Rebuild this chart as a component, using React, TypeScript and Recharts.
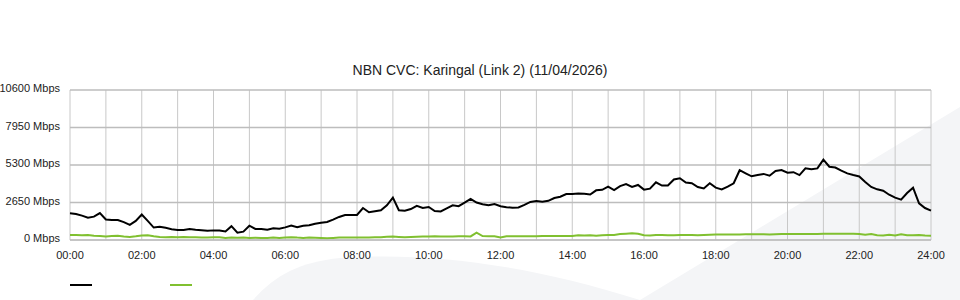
import React from 'react';
import { LineChart, Line, XAxis, YAxis, CartesianGrid, Legend } from 'recharts';

const TITLE = 'NBN CVC: Karingal (Link 2) (11/04/2026)';

// 10-minute samples, 00:00 .. 24:00 (145 points), Mbps
const downloadMbps = [
  1890, 1840, 1720, 1580, 1650, 1900, 1450, 1410, 1410, 1260, 1070, 1350,
  1800, 1350, 880, 940, 860, 760, 710, 710, 780, 730, 690, 650,
  680, 670, 600, 980, 520, 590, 1010, 780, 780, 730, 830, 800,
  890, 1020, 900, 1010, 1050, 1150, 1220, 1270, 1440, 1630, 1770, 1770,
  1770, 2260, 1960, 2030, 2100, 2450, 3000, 2100, 2070, 2190, 2420, 2260,
  2330, 2050, 2020, 2230, 2450, 2390, 2640, 2910, 2650, 2530, 2450, 2540,
  2390, 2320, 2280, 2300, 2480, 2690, 2750, 2710, 2770, 2970, 3060, 3250,
  3250, 3290, 3260, 3210, 3510, 3550, 3770, 3530, 3810, 3950, 3750, 3890,
  3560, 3630, 4080, 3850, 3850, 4280, 4360, 4060, 4010, 3740, 3640, 4010,
  3700, 3580, 3770, 4010, 4930, 4710, 4500, 4590, 4670, 4540, 4880, 4940,
  4760, 4790, 4590, 5070, 5000, 5060, 5680, 5180, 5120, 4900, 4710, 4590,
  4490, 4100, 3750, 3580, 3480, 3200, 2990, 2850, 3320, 3700, 2590, 2260,
  2080,
];

const uploadMbps = [
  360, 350, 330, 360, 300, 280, 240, 280, 300, 250, 220, 260,
  320, 340, 260, 220, 200, 210, 200, 210, 190, 200, 180, 170,
  200, 190, 150, 180, 160, 170, 150, 160, 140, 150, 170, 140,
  180, 200, 170, 150, 180, 160, 140, 120, 150, 170, 180, 180,
  180, 180, 180, 190, 190, 230, 240, 220, 190, 220, 230, 240,
  250, 260, 250, 250, 250, 260, 260, 250, 520, 280, 260, 260,
  170, 260, 270, 270, 270, 270, 270, 280, 280, 280, 280, 280,
  290, 340, 310, 330, 300, 330, 350, 360, 420, 450, 480, 440,
  340, 320, 350, 360, 330, 340, 350, 360, 360, 340, 360, 370,
  380, 390, 380, 380, 390, 400, 400, 410, 400, 390, 410, 420,
  420, 420, 430, 430, 430, 430, 440, 440, 440, 440, 440, 440,
  430, 380, 420, 340, 320, 370, 320, 400, 330, 330, 360, 310,
  300,
];

const STEP_MINUTES = 10;
const yTicks = [0, 2650, 5300, 7950, 10600];
const hourTicks = Array.from({ length: 25 }, (_, h) => h * 60);
const labelledHours = [0, 2, 4, 6, 8, 10, 12, 14, 16, 18, 20, 22, 24];

const data = downloadMbps.map((d, i) => ({
  minute: i * STEP_MINUTES,
  download: d,
  upload: uploadMbps[i],
}));

const FONT = '"Liberation Sans", Arial, Helvetica, sans-serif';

const fmtHour = (m: number) => {
  const h = Math.round(m / 60);
  if (!labelledHours.includes(h)) return '';
  return `${String(h).padStart(2, '0')}:00`;
};

const YTick = (props: any) => {
  const { x, y, payload } = props;
  return (
    <text x={x} y={y} dy={2} textAnchor="end" fill="#222" fontSize={11} fontFamily={FONT}>
      {`${payload.value} Mbps`}
    </text>
  );
};

const LegendContent = () => (
  <div style={{ position: 'relative', width: 960, height: 20 }}>
    <div style={{ position: 'absolute', left: 70, top: 14, width: 22, height: 2, background: '#000' }} />
    <div style={{ position: 'absolute', left: 170, top: 14, width: 22, height: 2, background: '#80c030' }} />
  </div>
);

export default function App() {
  return (
    <div style={{ position: 'absolute', left: 0, top: 0, width: 960, height: 300, overflow: 'hidden', background: '#fff', fontFamily: FONT }}>
      <svg width={960} height={300} style={{ position: 'absolute', left: 0, top: 0 }}>
        <path d="M253,300 C275,275 300,262 340,258 C420,252 520,262 640,300 Z" fill="#f4f5f7" />
        <path d="M640,300 L960,107 L960,300 Z" fill="#f4f5f7" />
      </svg>
      <div style={{ position: 'absolute', left: 0, top: 62, width: 960, textAlign: 'center', fontSize: 14, lineHeight: '16px', color: '#222' }}>
        {TITLE}
      </div>
      <div style={{ position: 'absolute', left: 0, top: 0 }}>
        <LineChart width={960} height={300} data={data} margin={{ top: 90, right: 29, bottom: 10, left: 0 }}>
          <CartesianGrid stroke="#c8c8c8" strokeWidth={1} vertical={true} horizontal={false} />
          <CartesianGrid stroke="#bdbdbd" strokeWidth={1.6} vertical={false} horizontal={true} />
          <XAxis
            dataKey="minute"
            type="number"
            domain={[0, 1440]}
            ticks={hourTicks}
            interval={0}
            tickFormatter={fmtHour}
            tickLine={false}
            axisLine={{ stroke: '#bdbdbd' }}
            tickSize={9}
            tickMargin={2}
            height={30}
            tick={{ fill: '#222', fontSize: 11, fontFamily: FONT }}
          />
          <YAxis
            domain={[0, 10600]}
            ticks={yTicks}
            interval={0}
            tickLine={false}
            axisLine={false}
            width={70}
            tickSize={8}
            tickMargin={2}
            tick={<YTick />}
          />
          <Legend verticalAlign="bottom" height={20} content={<LegendContent />} wrapperStyle={{ left: 0, width: 960 }} />
          <Line type="linear" dataKey="upload" stroke="#80c030" strokeWidth={2} dot={false} isAnimationActive={false} />
          <Line type="linear" dataKey="download" stroke="#000" strokeWidth={2} dot={false} isAnimationActive={false} />
        </LineChart>
      </div>
    </div>
  );
}
